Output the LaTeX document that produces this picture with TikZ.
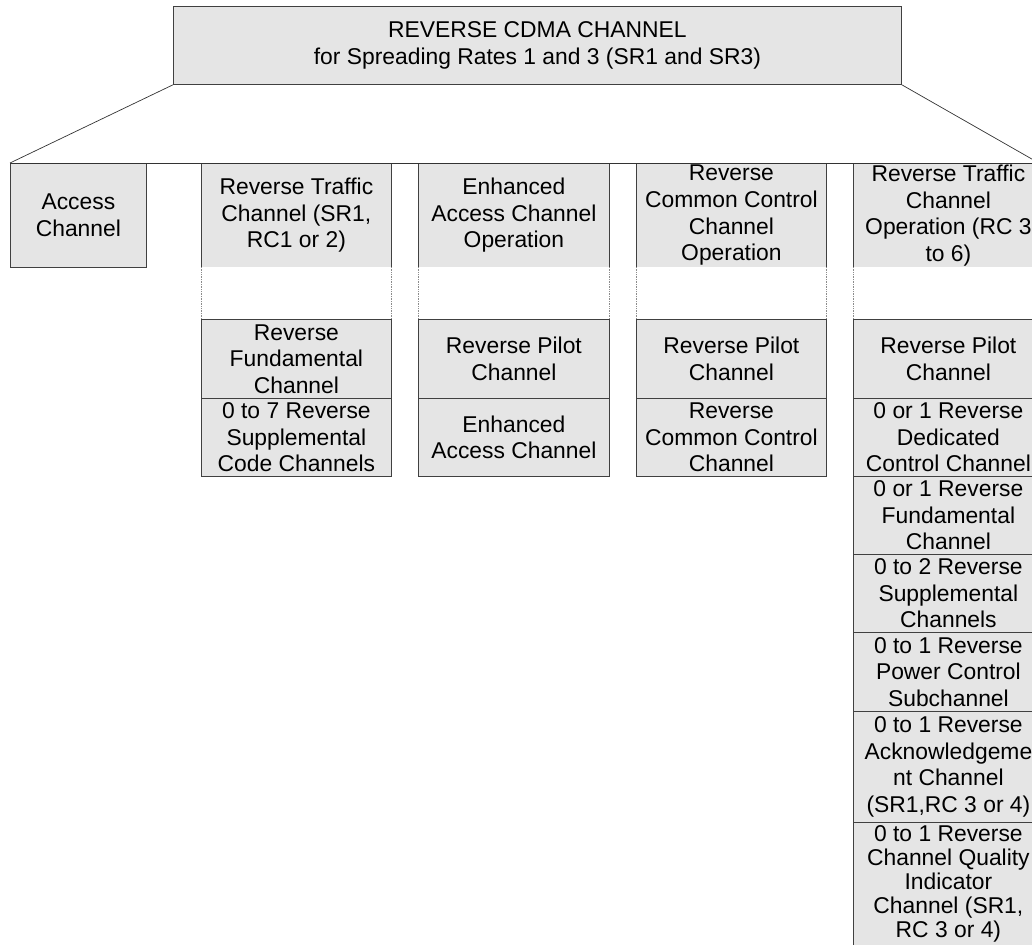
\documentclass[tikz,border=0pt]{standalone}
\usepackage{fontspec}
\setmainfont{Liberation Sans}
\begin{document}
\begin{tikzpicture}[x=1pt,y=-1pt,
  cell/.style={draw=black!75, line width=0.8pt, fill=black!10, anchor=north west,
    inner sep=0pt, align=center, font=\fontsize{22.85}{26.6}\selectfont},
  celltext/.style={inner sep=0pt, align=center, font=\fontsize{22.85}{24}\selectfont},
  gapcell/.style={draw=none, fill=white, anchor=north west, inner sep=0pt},
  gapside/.style={draw=black!45, line width=0.7pt, densely dotted},
  link/.style={draw=black!80, line width=0.7pt}]
\useasboundingbox (0,0) rectangle (1032,944);
\clip (0,0) rectangle (1032,944);
% top
\node[cell, minimum width=728pt, minimum height=78pt] (top) at (173,6)
  {REVERSE CDMA CHANNEL\\for Spreading Rates 1 and 3 (SR1 and SR3)};
% headers
\node[cell, minimum width=136pt, minimum height=104pt] (acc) at (10,163) {Access\\Channel};
\node[cell, minimum width=190pt, minimum height=104pt] (h1) at (201,163) {Reverse Traffic\\Channel (SR1,\\RC1 or 2)};
\node[cell, minimum width=191pt, minimum height=104pt] (h2) at (418,163) {Enhanced\\Access Channel\\Operation};
\node[cell, minimum width=190pt, minimum height=104pt] (h3) at (636,163) {Reverse\\Common Control\\Channel\\Operation};
\node[cell, minimum width=190pt, minimum height=104pt] (h4) at (853,163) {Reverse Traffic\\Channel\\Operation (RC 3\\to 6)};
% gaps
\node[gapcell, minimum width=190pt, minimum height=52pt] (g1) at (201,267) {};
\node[gapcell, minimum width=191pt, minimum height=52pt] (g2) at (418,267) {};
\node[gapcell, minimum width=190pt, minimum height=52pt] (g3) at (636,267) {};
\node[gapcell, minimum width=190pt, minimum height=52pt] (g4) at (853,267) {};
\foreach \g in {g1,g2,g3,g4}{
  \draw[gapside] (\g.north west) -- (\g.south west);
  \draw[gapside] (\g.north east) -- (\g.south east);
}
% rows
\node[cell, minimum width=190pt, minimum height=79pt] (a1) at (201,319) {Reverse\\Fundamental\\Channel};
\node[cell, minimum width=190pt, minimum height=78pt] (b1) at (201,398) {0 to 7 Reverse\\Supplemental\\Code Channels};
\node[cell, minimum width=191pt, minimum height=79pt] (a2) at (418,319) {Reverse Pilot\\Channel};
\node[cell, minimum width=191pt, minimum height=78pt] (b2) at (418,398) {Enhanced\\Access Channel};
\node[cell, minimum width=190pt, minimum height=79pt] (a3) at (636,319) {Reverse Pilot\\Channel};
\node[cell, minimum width=190pt, minimum height=78pt] (b3) at (636,398) {Reverse\\Common Control\\Channel};
\node[cell, minimum width=190pt, minimum height=79pt] (a4) at (853,319) {Reverse Pilot\\Channel};
\node[cell, minimum width=190pt, minimum height=78pt] (b4) at (853,398) {0 or 1 Reverse\\Dedicated\\Control Channel};
\node[cell, minimum width=190pt, minimum height=78pt] (c4) at (853,476) {0 or 1 Reverse\\Fundamental\\Channel};
\node[cell, minimum width=190pt, minimum height=78pt] (d4) at (853,554) {0 to 2 Reverse\\Supplemental\\Channels};
\node[cell, minimum width=190pt, minimum height=79pt] (e4) at (853,632) {0 to 1 Reverse\\Power Control\\Subchannel};
\node[cell, minimum width=190pt, minimum height=111pt] (f4) at (853,711) {0 to 1 Reverse\\Acknowledgeme\\nt Channel\\(SR1,RC 3 or 4)};
\node[cell, minimum width=190pt, minimum height=140pt] (x4) at (853,822) {};
\node[celltext, anchor=north] (x4t) at ([yshift=-3pt]x4.north) {0 to 1 Reverse\\Channel Quality\\Indicator\\Channel (SR1,\\RC 3 or 4)};
% connectors
\draw[link] (top.south west) -- (acc.north west);
\draw[link] (top.south east) -- ([xshift=-5pt]h4.north east);
\draw[link] (acc.north west) -- (h4.north east);
\end{tikzpicture}
\end{document}
